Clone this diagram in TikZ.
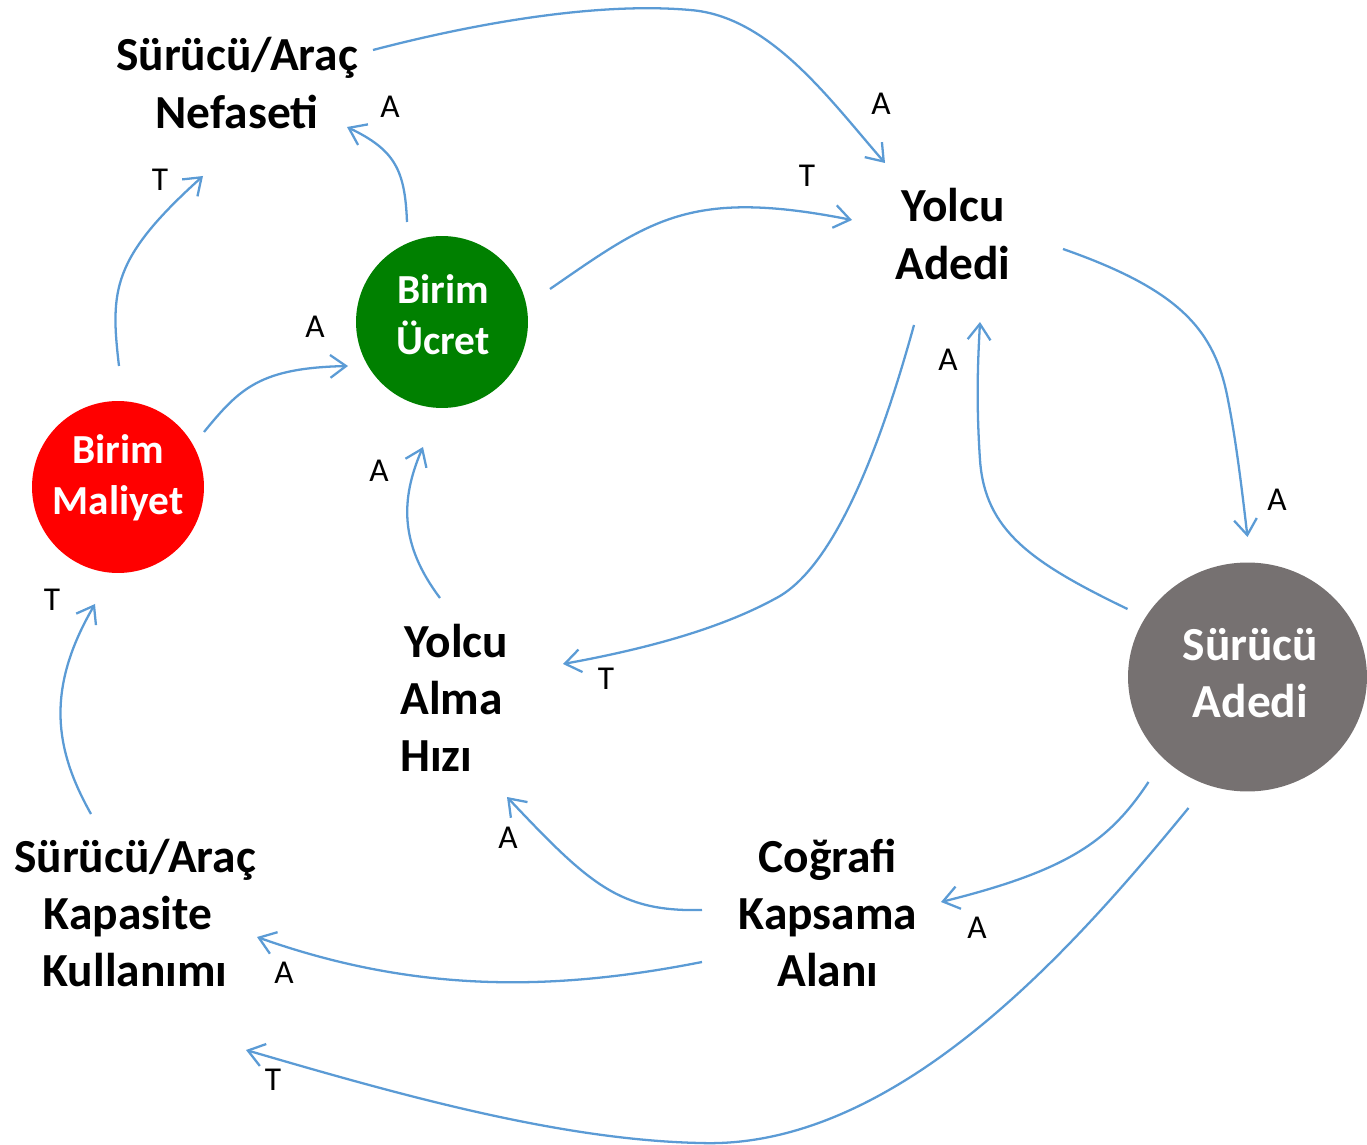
\documentclass[tikz,border=0pt]{standalone}
\usepackage{fontspec}
\setmainfont{Carlito}
\usetikzlibrary{arrows.meta,shapes.geometric}
\definecolor{edgeblue}{HTML}{5B9BD5}
\definecolor{ucgreen}{HTML}{008000}
\definecolor{sagray}{HTML}{767171}
\tikzset{
  big/.style={font=\bfseries\fontsize{27}{32.5}\selectfont, align=center, inner sep=0pt},
  circ/.style={circle, minimum size=3.44cm, inner sep=0pt},
  circtext/.style={text=white, align=center, inner sep=0pt,
    font=\bfseries\fontsize{23.5}{29}\selectfont},
  conn/.style={draw=edgeblue, line width=1.3pt, -{Straight Barb[length=9pt,width=13pt]}},
  lab/.style={font=\fontsize{19}{22}\selectfont, inner sep=0pt}
}
\begin{document}
\begin{tikzpicture}[x=0.02cm,y=-0.02cm]
\useasboundingbox (0,0) rectangle (1367,1145);
% nodes
\node[big] (nef) at (237,83) {Sürücü/Araç\\Nefaseti};
\node[circ, fill=ucgreen,
  label={[circtext, yshift=0.15cm, xshift=0.02cm]center:Birim\\Ücret}] (uc) at (442,322) {};
\node[circ, fill=red,
  label={[circtext, yshift=0.19cm]center:Birim\\Maliyet}] (bm) at (118,487) {};
\node[big] (ya) at (953,234) {Yolcu\\Adedi};
\node[ellipse, fill=sagray, minimum width=4.78cm, minimum height=4.58cm, inner sep=0pt,
  label={[big, text=white, yshift=0.08cm, xshift=0.06cm]center:Sürücü\\Adedi}] (sa) at (1247.5,677) {};
\node[big, align=left, anchor=west] (yah) at (400,698) {\hspace{2.5pt}Yolcu\\Alma\\Hızı};
\node[big] (cka) at (828,913) {Coğrafi\\Kapsama\\Alanı};
\node[big] (kk) at (135,913) {Sürücü/Araç\\Kapasite\rule{8pt}{0pt}\\Kullanımı};
% connectors
\draw[conn] ([shift={(136,-33)}]nef.center) .. controls (480,22) and (600,2) .. (690,10)
  .. controls (770,16) and (830,100) .. ([shift={(-68,-71)}]ya.center);
\draw[conn] ([shift={(-35,-100)}]uc.center) .. controls (405,170) and (395,150) .. ([shift={(110,44)}]nef.center);
\draw[conn] ([shift={(1,-121)}]bm.center) .. controls (110,290) and (112,258) .. ([shift={(-34,93)}]nef.center);
\draw[conn] ([shift={(86,-55)}]bm.center) .. controls (240,388) and (260,368) .. ([shift={(-94,44)}]uc.center);
\draw[conn] ([shift={(108,-33)}]uc.center) .. controls (650,220) and (690,188) .. ([shift={(-101,-14)}]ya.center);
\draw[conn] ([shift={(110,15)}]ya.center) .. controls (1180,290) and (1215,330) .. (1228,400)
  .. controls (1236,440) and (1242,490) .. ([shift={(0,-140)}]sa.center);
\draw[conn] ([shift={(-120,-68)}]sa.center) .. controls (1030,562) and (985,530) .. (980,460)
  .. controls (976,400) and (978,360) .. ([shift={(27,88)}]ya.center);
\draw[conn] ([shift={(-39,91)}]ya.center) .. controls (885,430) and (840,560) .. (780,596)
  .. controls (720,630) and (640,650) .. ([shift={(163,-34)}]yah.west);
\draw[conn] ([shift={(40,-100)}]yah.west) .. controls (400,545) and (400,500) .. ([shift={(-19,125)}]uc.center);
\draw[conn] ([shift={(-99,105)}]sa.center) .. controls (1110,840) and (1070,870) .. ([shift={(113,-11)}]cka.center);
\draw[conn] ([shift={(-126,-3)}]cka.center) .. controls (620,912) and (590,885) .. ([shift={(107,99)}]yah.west);
\draw[conn] ([shift={(-126,49)}]cka.center) .. controls (560,990) and (420,995) .. ([shift={(122,24)}]kk.center);
\draw[conn] ([shift={(-59,131)}]sa.center) .. controls (1080,940) and (900,1150) .. (700,1143)
  .. controls (560,1140) and (400,1095) .. ([shift={(111,137)}]kk.center);
\draw[conn] ([shift={(-44,-99)}]kk.center) .. controls (55,750) and (45,690) .. ([shift={(-23,117)}]bm.center);
% labels
\node[lab] (l1) at (881,104) {A};
\node[lab] (l2) at (390,107) {A};
\node[lab] (l3) at (160,180) {T};
\node[lab] (l4) at (315,327) {A};
\node[lab] (l5) at (807,176) {T};
\node[lab] (l6) at (1277,500) {A};
\node[lab] (l7) at (948,360) {A};
\node[lab] (l8) at (606,679) {T};
\node[lab] (l9) at (379,471) {A};
\node[lab] (l10) at (977,928) {A};
\node[lab] (l11) at (508,838) {A};
\node[lab] (l12) at (284,973) {A};
\node[lab] (l13) at (273,1080) {T};
\node[lab] (l14) at (52,600) {T};
\end{tikzpicture}
\end{document}
